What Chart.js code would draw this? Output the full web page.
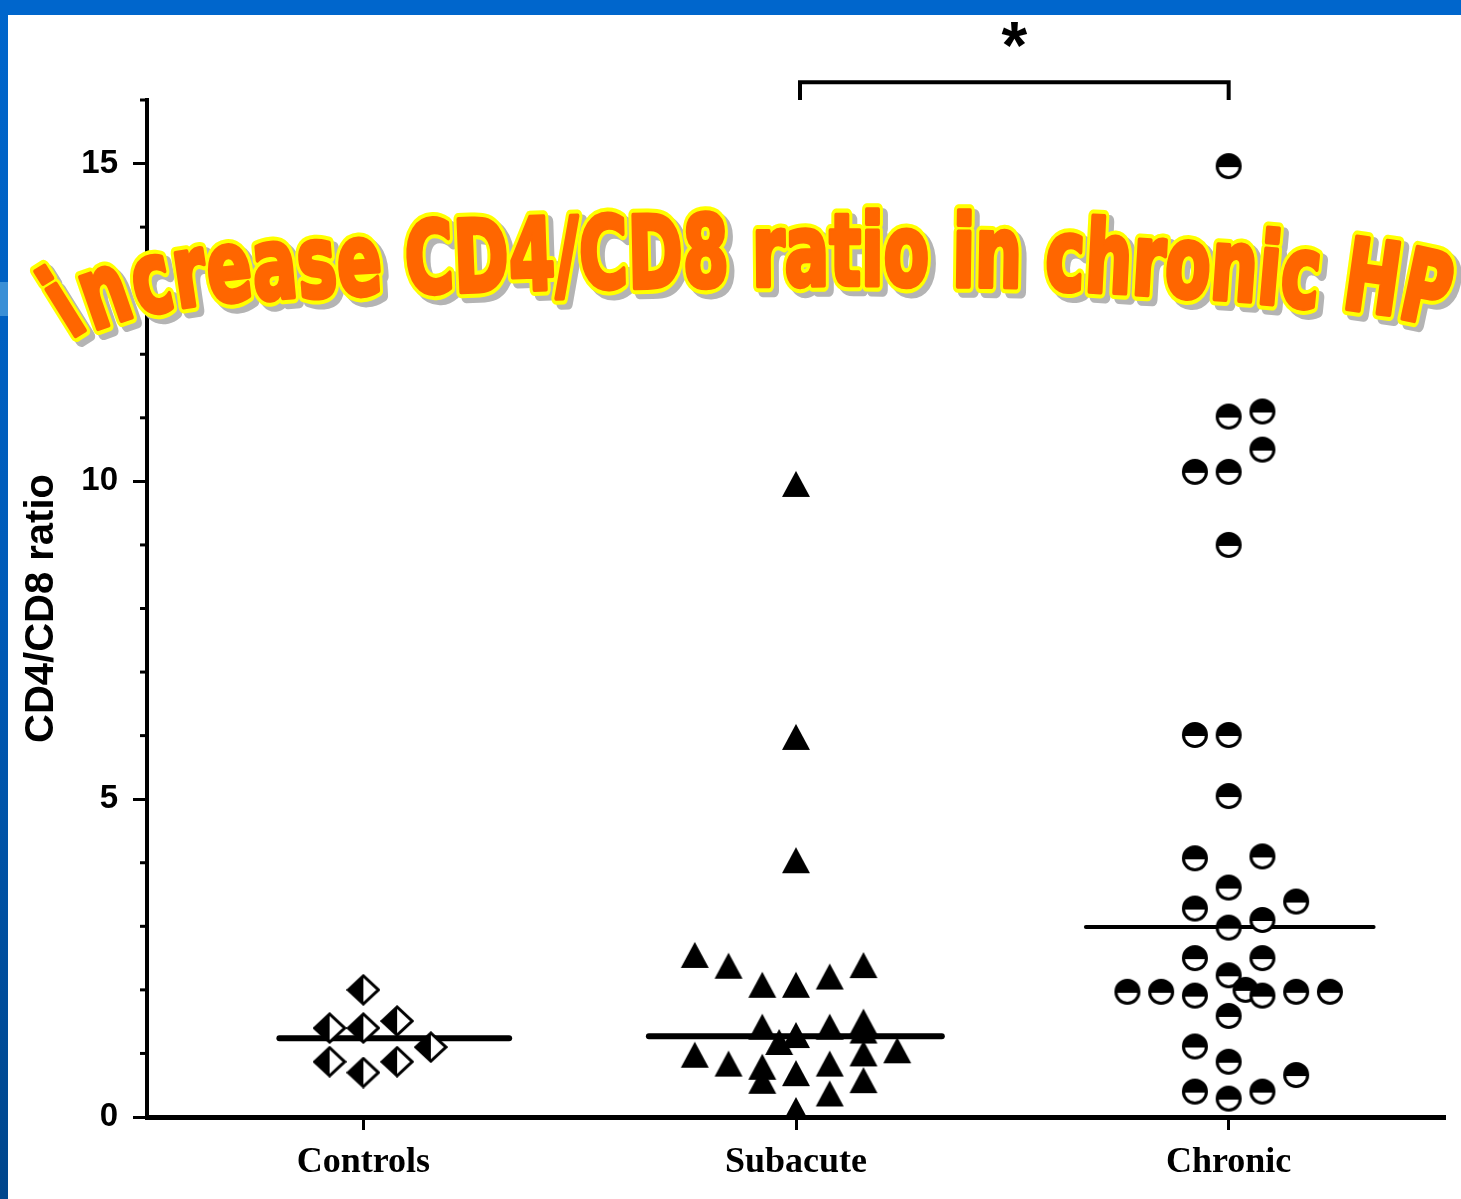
<!DOCTYPE html>
<html>
<head>
<meta charset="utf-8">
<title>CD4/CD8 ratio</title>
<script src="https://cdn.jsdelivr.net/npm/chart.js@4.4.1/dist/chart.umd.min.js"></script>
<style>
  html, body { margin: 0; padding: 0; background: #fff; overflow: hidden; }
  canvas { display: block; }
</style>
</head>
<body>
<canvas id="chart" width="1461" height="1199"></canvas>
<script>
// groups on the x axis (1, 2, 3)
const categories = ['Controls', 'Subacute', 'Chronic'];
const yTicks = [0, 5, 10, 15];

// values, with the jitter column each mark sits in
const controlsValues = [2.0, 1.40, 1.40, 1.51, 1.10, 0.87, 0.70, 0.87];
const controlsCols   = [0,   -1,   0,    1,    2,    -1,   0,    1];

const subacuteValues = [9.96, 5.98, 4.04,
    2.55, 2.38, 2.08, 2.08, 2.21, 2.39,
    1.42, 1.18, 1.29, 1.42, 1.50, 1.36,
    0.98, 0.84, 0.79, 0.57, 0.69, 0.84, 1.00, 0.58, 1.05, 0.37, 0.11];
const subacuteCols = [0, 0, 0,
    -3, -2, -1, 0, 1, 2,
    -1, -0.5, 0, 1, 2, 2,
    -3, -2, -1, -1, 0, 1, 2, 2, 3, 1, 0];

const chronicValues = [14.96,
    11.02, 11.10, 10.50, 10.15, 10.15, 9.0,
    6.01, 6.01, 5.05,
    4.07, 4.10, 3.61, 3.28, 3.39, 2.98, 3.10,
    2.50, 2.50, 2.23,
    1.97, 1.97, 1.91, 2.00, 1.91, 1.97, 1.97,
    1.59, 1.11, 0.87, 0.66, 0.40, 0.29, 0.40];
const chronicCols = [0,
    0, 1, 1, -1, 0, 0,
    -1, 0, 0,
    -1, 1, 0, -1, 2, 0, 1,
    -1, 1, 0,
    -3, -2, -1, 0.5, 1, 2, 3,
    0, -1, 0, 2, -1, 0, 1];

// median bars: value, and where the bar starts / ends on the x scale
const medians     = [1.24, 1.27, 2.99];
const medianFrom  = [0.806, 1.66, 2.67];
const medianTo    = [1.337, 2.337, 3.335];
const medianWidth = [6, 6, 4];

// significance bracket between Subacute and Chronic
const bracketPair = [2, 3];
const bracketLow = 16.0, bracketHigh = 16.28, starLevel = 16.98;

const titleText = 'increase CD4/CD8 ratio in chronic HP';
const colStep = 0.078;

function toPoints(group, values, cols) {
    return values.map((v, i) => ({ x: group + cols[i] * colStep, y: v }));
}

// marker images
function makeDiamond() {
    const c = document.createElement('canvas');
    c.width = 34; c.height = 32;
    const g = c.getContext('2d');
    g.lineWidth = 3; g.lineJoin = 'miter';
    g.beginPath(); g.moveTo(2, 16); g.lineTo(17, 2); g.lineTo(32, 16); g.lineTo(17, 30); g.closePath();
    g.fillStyle = '#fff'; g.fill();
    g.beginPath(); g.moveTo(2, 16); g.lineTo(17, 2); g.lineTo(17, 30); g.closePath();
    g.fillStyle = '#000'; g.fill();
    g.beginPath(); g.moveTo(2, 16); g.lineTo(17, 2); g.lineTo(32, 16); g.lineTo(17, 30); g.closePath();
    g.strokeStyle = '#000'; g.stroke();
    return c;
}
function makeTriangle() {
    const c = document.createElement('canvas');
    c.width = 30; c.height = 28;
    const g = c.getContext('2d');
    g.beginPath(); g.moveTo(1, 27); g.lineTo(15, 1); g.lineTo(29, 27); g.closePath();
    g.fillStyle = '#000'; g.fill();
    return c;
}
function makeHalfCircle() {
    const c = document.createElement('canvas');
    c.width = 28; c.height = 28;
    const g = c.getContext('2d');
    g.beginPath(); g.arc(14, 14, 11.5, 0, Math.PI * 2);
    g.fillStyle = '#fff'; g.fill();
    g.save(); g.clip();
    g.fillStyle = '#000'; g.fillRect(0, 0, 28, 15);
    g.restore();
    g.beginPath(); g.arc(14, 14, 11.5, 0, Math.PI * 2);
    g.lineWidth = 3; g.strokeStyle = '#000'; g.stroke();
    return c;
}

// word art title: where the letters sit and how they lean
const artXs     = [80, 118, 158, 197, 242, 290, 377, 600, 850, 1000, 1117, 1232, 1310, 1370, 1420];
const artYs     = [333, 322, 312, 305, 300, 298, 294, 288, 285, 287, 293, 300, 308, 312, 322];
const artAngles = [-32, -18, -12, -8, -6, -5, -3, -1.5, 0, 1, 3, 4, 6, 8, 12];

function interp(xs, ys, x) {
    if (x <= xs[0]) return ys[0];
    for (let i = 1; i < xs.length; i++) {
        if (x <= xs[i]) {
            const t = (x - xs[i - 1]) / (xs[i] - xs[i - 1]);
            return ys[i - 1] + t * (ys[i] - ys[i - 1]);
        }
    }
    return ys[ys.length - 1];
}

function drawWordArt(ctx) {
    const size = 86, sy = 1.16;
    ctx.save();
    ctx.font = `bold ${size}px 'DejaVu Sans Condensed', 'DejaVu Sans', sans-serif`;
    const chars = [...titleText];
    const centers = [];
    let acc = 0;
    chars.forEach(ch => { const w = ctx.measureText(ch).width; centers.push(acc + w / 2); acc += w; });
    const first = centers[0], last = centers[centers.length - 1];
    const sx = (1420 - 80) / (last - first);
    const placed = chars.map((ch, i) => {
        const x = 80 + (centers[i] - first) * sx;
        return { ch, x, y: interp(artXs, artYs, x), a: interp(artXs, artAngles, x) * Math.PI / 180 };
    });
    ctx.textAlign = 'center';
    ctx.textBaseline = 'alphabetic';
    ctx.lineJoin = 'round';
    const k = (sx + sy) / 2;
    const bold = 4 / k, rim = 11 / k;
    const pass = (dx, dy, fn) => {
        placed.forEach(p => {
            if (p.ch === ' ') return;
            ctx.save();
            ctx.translate(p.x + dx, p.y + dy);
            ctx.rotate(p.a);
            ctx.scale(sx, sy);
            fn(p.ch);
            ctx.restore();
        });
    };
    ctx.fillStyle = '#b4b4b4'; ctx.strokeStyle = '#b4b4b4'; ctx.lineWidth = rim;
    pass(5, 5, ch => { ctx.strokeText(ch, 0, 0); ctx.fillText(ch, 0, 0); });
    ctx.strokeStyle = '#ffff00'; ctx.lineWidth = rim;
    pass(0, 0, ch => ctx.strokeText(ch, 0, 0));
    ctx.fillStyle = '#ff6600'; ctx.strokeStyle = '#ff6600'; ctx.lineWidth = bold;
    pass(0, 0, ch => { ctx.strokeText(ch, 0, 0); ctx.fillText(ch, 0, 0); });
    ctx.restore();
}

const decorPlugin = {
    id: 'decor',
    beforeDraw(chart) {
        const ctx = chart.ctx;
        const W = chart.width, H = chart.height;
        ctx.save();
        ctx.fillStyle = '#fff';
        ctx.fillRect(0, 0, W, H);
        const grad = ctx.createLinearGradient(0, 0, 0, H);
        grad.addColorStop(0, '#0066cc');
        grad.addColorStop(0.5, '#005bb8');
        grad.addColorStop(1, '#00468c');
        ctx.fillStyle = grad;
        ctx.fillRect(0, 0, 8, H);
        ctx.fillStyle = '#3a8fd6';
        ctx.fillRect(0, 282, 8, 34);
        ctx.fillStyle = '#0066cc';
        ctx.fillRect(0, 0, W, 15);
        ctx.restore();
    },
    afterDraw(chart) {
        const ctx = chart.ctx;
        const xs = chart.scales.x, ys = chart.scales.y;
        ctx.save();
        // minor ticks on the y axis
        ctx.strokeStyle = '#000';
        ctx.lineWidth = 3;
        for (let v = 1; v <= 16; v++) {
            if (v % 5 === 0) continue;
            const py = ys.getPixelForValue(v);
            ctx.beginPath();
            ctx.moveTo(xs.left - 7, py);
            ctx.lineTo(xs.left, py);
            ctx.stroke();
        }
        // significance bracket
        const xa = xs.getPixelForValue(bracketPair[0]) + 4;
        const xb = xs.getPixelForValue(bracketPair[1]);
        const yl = ys.getPixelForValue(bracketLow), yh = ys.getPixelForValue(bracketHigh);
        ctx.lineWidth = 4;
        ctx.lineJoin = 'miter';
        ctx.beginPath();
        ctx.moveTo(xa, yl); ctx.lineTo(xa, yh); ctx.lineTo(xb, yh); ctx.lineTo(xb, yl);
        ctx.stroke();
        ctx.fillStyle = '#000';
        ctx.font = "bold 66px 'Liberation Sans', Arial, sans-serif";
        ctx.textAlign = 'center';
        ctx.textBaseline = 'middle';
        ctx.fillText('*', (xa + xb) / 2, ys.getPixelForValue(starLevel) + 12);
        ctx.restore();
        drawWordArt(ctx);
    }
};

const groups = [
    { label: 'Controls', pts: toPoints(1, controlsValues, controlsCols), marker: makeDiamond() },
    { label: 'Subacute', pts: toPoints(2, subacuteValues, subacuteCols), marker: makeTriangle() },
    { label: 'Chronic', pts: toPoints(3, chronicValues, chronicCols), marker: makeHalfCircle() }
];

const datasets = [];
medians.forEach((m, i) => {
    datasets.push({
        label: categories[i] + ' median',
        data: [{ x: medianFrom[i], y: m }, { x: medianTo[i], y: m }],
        showLine: true,
        borderColor: '#000',
        borderWidth: medianWidth[i],
        borderCapStyle: 'round',
        pointRadius: 0,
        order: 2
    });
});
groups.forEach(g => {
    datasets.push({
        label: g.label,
        data: g.pts,
        pointStyle: g.marker,
        pointRadius: 14,
        pointHoverRadius: 14,
        order: 1
    });
});

new Chart(document.getElementById('chart'), {
    type: 'scatter',
    data: { datasets },
    options: {
        responsive: false,
        animation: false,
        events: [],
        layout: { padding: { left: 8, top: 100, right: 16, bottom: 0 } },
        plugins: { legend: { display: false }, tooltip: { enabled: false } },
        scales: {
            x: {
                type: 'linear',
                min: 0.5, max: 3.5,
                afterBuildTicks: s => { s.ticks = [1, 2, 3].map(v => ({ value: v })); },
                afterFit: s => { s.height = 82; },
                ticks: {
                    callback: v => categories[v - 1] || '',
                    color: '#000',
                    font: { family: "'Liberation Serif', 'Times New Roman', serif", size: 36, weight: 'bold' },
                    padding: 11,
                    maxRotation: 0
                },
                grid: { drawOnChartArea: false, drawTicks: true, tickLength: 13, tickColor: '#000', tickWidth: 3 },
                border: { color: '#000', width: 5 }
            },
            y: {
                min: 0, max: 16,
                afterBuildTicks: s => { s.ticks = yTicks.map(v => ({ value: v })); },
                afterFit: s => { s.width = 139; },
                ticks: {
                    color: '#000',
                    font: { family: "'Liberation Sans', Arial, sans-serif", size: 33, weight: 'bold' },
                    padding: 15
                },
                grid: { drawOnChartArea: false, drawTicks: true, tickLength: 14, tickColor: '#000', tickWidth: 3 },
                border: { color: '#000', width: 4 },
                title: {
                    display: true,
                    text: 'CD4/CD8 ratio',
                    color: '#000',
                    font: { family: "'Liberation Sans', Arial, sans-serif", size: 40, weight: 'bold' },
                    padding: { top: 10, bottom: 0 }
                }
            }
        }
    },
    plugins: [decorPlugin]
});
</script>
</body>
</html>
